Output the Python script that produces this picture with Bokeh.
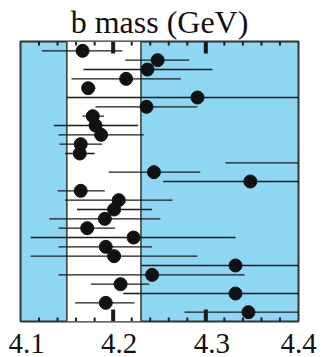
from bokeh.plotting import figure
from bokeh.models import (ColumnDataSource, Range1d, FixedTicker, LinearAxis,
                          BoxAnnotation, Span)
from bokeh.embed import file_html
from bokeh.resources import INLINE

# ---- data (rows listed top to bottom) ----
mass = [4.167, 4.248, 4.237, 4.214, 4.173, 4.291, 4.236, 4.178, 4.181, 4.187,
        4.165, 4.164, 4.430, 4.244, 4.348, 4.165, 4.206, 4.201, 4.191, 4.172,
        4.222, 4.192, 4.201, 4.332, 4.242, 4.208, 4.332, 4.192, 4.346]
mass_lo = [4.123, 4.213, 4.168, 4.155, 4.167, 4.150, 4.181, 4.167, 4.136, 4.141,
           4.142, 4.148, 4.321, 4.195, 4.254, 4.140, 4.148, 4.161, 4.131, 4.141,
           4.111, 4.141, 4.111, 4.231, 4.141, 4.176, 4.211, 4.159, 4.277]
mass_hi = [4.210, 4.282, 4.307, 4.273, 4.181, 4.430, 4.291, 4.190, 4.227, 4.233,
           4.188, 4.180, 4.540, 4.294, 4.440, 4.191, 4.264, 4.242, 4.251, 4.202,
           4.332, 4.242, 4.291, 4.430, 4.342, 4.239, 4.450, 4.223, 4.415]
band = [4.15, 4.23]
major_ticks = [4.1, 4.2, 4.3, 4.4]
minor_ticks = [4.12, 4.14, 4.16, 4.18, 4.22, 4.24, 4.26, 4.28,
               4.32, 4.34, 4.36, 4.38]
tick_labels = ["4.1", "4.2", "4.3", "4.4"]
title_text = "b mass (GeV)"

n = len(mass)
row_y = [n - i for i in range(n)]
x_min, x_max = 4.1, 4.4
y_min, y_max = 0, n + 1

BLUE = "#8dd7f3"
DARK = "#1a1a1a"
FONT = "Liberation Serif"

W, H = 327, 357
BL, BR, BT, BB = 20, 29, 41, 36
frame_w = W - BL - BR
frame_h = H - BT - BB

p = figure(width=W, height=H, output_backend="svg", toolbar_location=None,
           x_range=Range1d(x_min, x_max), y_range=Range1d(y_min, y_max),
           min_border_left=BL, min_border_right=BR,
           min_border_top=BT, min_border_bottom=BB,
           x_axis_location=None, y_axis_location=None)
p.background_fill_color = BLUE
p.border_fill_color = "white"
p.outline_line_color = "#333333"
p.outline_line_width = 2
p.grid.visible = False

p.title.text = title_text
p.title.align = "center"
p.title.text_font = FONT
p.title.text_font_size = "32px"
p.title.text_font_style = "normal"
p.title.text_color = "#111111"
p.title.standoff = 3

p.add_layout(BoxAnnotation(left=band[0], right=band[1], fill_color="white",
                           fill_alpha=1, line_color=None, level="underlay"))
for b in band:
    p.add_layout(Span(location=b, dimension="height", line_color="#333333",
                      line_width=1.5, level="underlay"))

# inward ticks on top and bottom edges
ypx = (y_max - y_min) / frame_h
maj_in = [t for t in major_ticks if x_min < t < x_max]
maj_len, min_len = 12 * ypx, 4 * ypx
for edge, sgn in ((y_min, 1), (y_max, -1)):
    p.segment(x0=maj_in, x1=maj_in, y0=[edge] * len(maj_in),
              y1=[edge + sgn * maj_len] * len(maj_in),
              line_color=DARK, line_width=4)
    p.segment(x0=minor_ticks, x1=minor_ticks, y0=[edge] * len(minor_ticks),
              y1=[edge + sgn * min_len] * len(minor_ticks),
              line_color=DARK, line_width=2)

# tick labels (drawn slightly right of the tick, as in the original)
shift = 6 * (x_max - x_min) / frame_w
lab_start, lab_end = x_min - shift, x_max - shift
p.extra_x_ranges = {"labels": Range1d(lab_start, lab_end)}
lab_ticks = [min(t, lab_end - 1e-9) for t in major_ticks]
lab_axis = LinearAxis(x_range_name="labels",
                      ticker=FixedTicker(ticks=lab_ticks, minor_ticks=[]),
                      major_label_overrides={t: s for t, s in zip(lab_ticks, tick_labels)},
                      axis_line_color=None, major_tick_line_color=None,
                      major_tick_in=0, major_tick_out=0,
                      minor_tick_in=0, minor_tick_out=0,
                      major_label_standoff=12,
                      major_label_text_font=FONT,
                      major_label_text_font_size="29px",
                      major_label_text_color="#111111")
p.add_layout(lab_axis, "below")

src = ColumnDataSource(dict(m=mass, lo=mass_lo, hi=mass_hi, y=row_y))
p.segment(x0="lo", x1="hi", y0="y", y1="y", source=src,
          line_color=DARK, line_width=1.3)
p.scatter(x="m", y="y", source=src, size=13, fill_color="#111111",
          line_color="#111111")

open("out.html", "w").write(file_html(p, INLINE))
